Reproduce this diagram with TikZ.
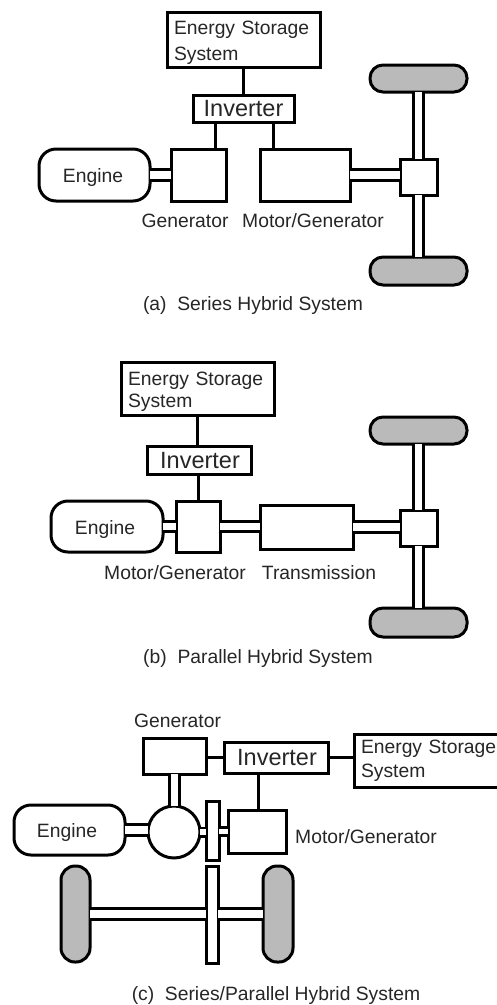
\documentclass[tikz,border=0pt]{standalone}
\usepackage{fontspec}
\setmainfont{Liberation Sans}
\definecolor{wheelgray}{gray}{0.73}
\definecolor{inkc}{gray}{0.15}
\newcommand\blk[6][]{%
  \pgfmathsetmacro\blkw{#5-#3}\pgfmathsetmacro\blkh{#6-#4}%
  \pgfmathsetmacro\blkx{(#5+#3)/2}\pgfmathsetmacro\blky{(#6+#4)/2}%
  \node[blockbox,#1,minimum width=\blkw pt,minimum height=\blkh pt] (#2) at (\blkx,\blky) {};}
\tikzset{
  blockbox/.style={draw=black,line width=3pt,inner sep=0pt,outer sep=0pt,fill=white,rectangle},
  enginebox/.style={rounded corners=17pt},
  wheelh/.style={rounded corners=13pt,fill=wheelgray},
  wheelv/.style={rounded corners=14pt,fill=wheelgray},
  label/.style={inner sep=0pt,text=inkc,font=\fontsize{19.3}{22}\selectfont},
  invlabel/.style={inner sep=0pt,text=inkc,font=\fontsize{23.5}{26}\selectfont},
  esslabel/.style={draw=black,line width=3pt,rectangle,fill=white,outer sep=0pt,inner xsep=7pt,inner ysep=0pt,
     text=inkc,text width=139pt,align=left,minimum height=#1},
  wire/.style={line width=3pt,draw=black},
  shaft/.style={draw=black,line width=2.8pt,double=white,double distance=7.8pt},
  thinshaft/.style={draw=black,line width=2.6pt,double=white,double distance=5.8pt},
}
\begin{document}
\begin{tikzpicture}[x=1pt,y=-1pt]
\useasboundingbox (0,0) rectangle (497,1005);
\clip (0,0) rectangle (497,1005);

% ---------- (a) ----------
\node[esslabel=55pt,font=\fontsize{19.3}{26}\selectfont] (essA) at (243.5,39.5) {\rule{0pt}{19pt}Energy Storage\\System};
\blk{invA}{193}{95}{294}{122}
\node[invlabel] (invtA) at (243.5,109) {Inverter};
\blk[enginebox]{engA}{39}{149}{150}{201}
\node[label] (engtA) at (93,178) {Engine};
\blk{genA}{171}{149}{226}{201}
\blk{mgA}{260}{149}{350}{201}
\blk{diffA}{400}{159}{437}{195}
\blk[wheelh]{wtA}{370}{65}{467}{92}
\blk[wheelh]{wbA}{370}{257}{467}{285}
\draw[wire] (essA.south -| invA.north) -- (invA.north);
\draw[wire] ([xshift=-28.5pt]invA.south) -- ([xshift=-28.5pt]invA.south |- genA.north);
\draw[wire] ([xshift=29.5pt]invA.south) -- ([xshift=29.5pt]invA.south |- mgA.north);
\draw[shaft] (engA.east) -- (engA.east -| genA.west);
\draw[shaft] (mgA.east) -- (mgA.east -| diffA.west);
\draw[shaft] (diffA.north) -- (diffA.north |- wtA.south);
\draw[shaft] (diffA.south) -- (diffA.south |- wbA.north);
\node[label] (gentA) at (185,221) {Generator};
\node[label] (mgtA) at (313,221) {Motor/Generator};
\node[label] (capA) at (253,306) {(a)\ \ Series Hybrid System};

% ---------- (b) ----------
\node[esslabel=53pt,font=\fontsize{19.3}{22}\selectfont] (essB) at (197.5,388.5) {\rule{0pt}{19pt}Energy Storage\\System};
\blk{invB}{147}{446}{251}{474}
\node[invlabel] (invtB) at (200,461) {Inverter};
\blk[enginebox]{engB}{51}{501}{163}{552}
\node[label] (engtB) at (105,530) {Engine};
\blk{mgB}{176}{501}{220}{552}
\blk{trB}{260}{505}{353}{549}
\blk{diffB}{400}{510}{437}{546}
\blk[wheelh]{wtB}{370}{417}{467}{444}
\blk[wheelh]{wbB}{370}{608}{467}{637}
\draw[wire] (essB.south) -- (essB.south |- invB.north);
\draw[wire] (invB.south -| mgB.north) -- (mgB.north);
\draw[shaft] (engB.east) -- (engB.east -| mgB.west);
\draw[shaft] (mgB.east) -- (mgB.east -| trB.west);
\draw[shaft] (trB.east) -- (trB.east -| diffB.west);
\draw[shaft] (diffB.north) -- (diffB.north |- wtB.south);
\draw[shaft] (diffB.south) -- (diffB.south |- wbB.north);
\node[label] (mgtB) at (175,573) {Motor/Generator};
\node[label] (trtB) at (319,573) {Transmission};
\node[label] (capB) at (258,658) {(b)\ \ Parallel Hybrid System};

% ---------- (c) ----------
\node[label] (gentC) at (177.5,721) {Generator};
\blk{genC}{143}{738}{206}{774}
\blk{invC}{224}{742}{328}{773}
\node[invlabel] (invtC) at (277,758) {Inverter};
\node[esslabel=53pt,font=\fontsize{19.3}{24}\selectfont] (essC) at (430.5,760.5) {Energy Storage\\System};
\blk[enginebox]{engC}{14}{805}{125}{855}
\node[label] (engtC) at (67,832) {Engine};
\node[draw=black,line width=3pt,circle,fill=white,inner sep=0pt,outer sep=0pt,minimum size=52pt] (planC) at (174,832) {};
\blk{gearC}{206}{801}{219}{860}
\blk{mgC}{228}{810}{286}{853}
\blk{lgC}{206}{866}{218}{963}
\blk[wheelv]{wlC}{61}{866}{90}{962}
\blk[wheelv]{wrC}{263}{866}{293}{962}
\draw[wire] (invC.west) -- (invC.west -| genC.east);
\draw[wire] (invC.east) -- (invC.east -| essC.west);
\draw[wire] ([xshift=-17.5pt]invC.south) -- ([xshift=-17.5pt]invC.south |- mgC.north);
\draw[shaft] (genC.south) -- (genC.south |- planC.north);
\draw[shaft] (engC.east) -- (engC.east -| planC.west);
\draw[thinshaft] (planC.east) -- (planC.east -| gearC.west);
\draw[thinshaft] (gearC.east |- mgC.west) -- (mgC.west);
\draw[shaft] (wlC.east) -- (wlC.east -| lgC.west);
\draw[shaft] (lgC.east |- wrC.west) -- (wrC.west);
\node[label] (mgtC) at (366,837) {Motor/Generator};
\node[label] (capC) at (276,995) {(c)\ \ Series/Parallel Hybrid System};
\end{tikzpicture}
\end{document}
